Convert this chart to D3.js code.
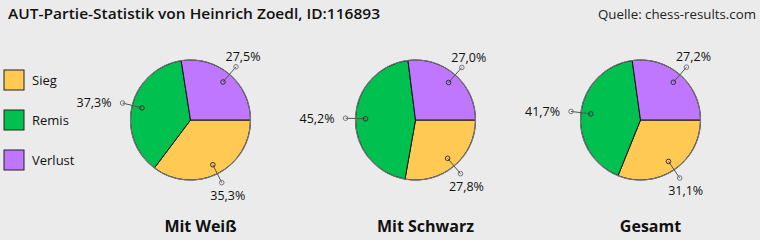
<!DOCTYPE html>
<html>
<head>
<meta charset="utf-8">
<script src="https://cdn.jsdelivr.net/npm/d3@7"></script>
<style>
  html, body { margin: 0; padding: 0; background: #ebebeb; }
  svg { display: block; font-family: "Open Sans", "Noto Sans", sans-serif; }
</style>
</head>
<body>
<svg id="chart" width="760" height="240"></svg>
<script>
// chart data
var categories = ["Sieg", "Remis", "Verlust"];
var groups = ["Mit Weiß", "Mit Schwarz", "Gesamt"];
var sieg = [35.3, 27.8, 31.1];
var remis = [37.3, 45.2, 41.7];
var verlust = [27.5, 27.0, 27.2];
var colors = ["#ffc953", "#00c04f", "#c077ff"];

var svg = d3.select("#chart");
var W = 760, R = 60, cy = 120;

var fmt = d3.formatLocale({decimal: ",", thousands: ".", grouping: [3], currency: ["", "€"]}).format(".1f");

// title + source
svg.append("text")
    .attr("x", 8).attr("y", 19)
    .attr("font-size", 15).attr("font-weight", 600).attr("fill", "#111")
    .attr("textLength", 372).attr("lengthAdjust", "spacingAndGlyphs")
    .text("AUT-Partie-Statistik von Heinrich Zoedl, ID:116893");
svg.append("text")
    .attr("x", 756).attr("y", 19).attr("text-anchor", "end")
    .attr("font-size", 13).attr("fill", "#222")
    .attr("textLength", 158).attr("lengthAdjust", "spacingAndGlyphs")
    .text("Quelle: chess-results.com");

// legend
var leg = svg.append("g").selectAll("g").data(categories).enter().append("g")
    .attr("transform", function (d, i) { return "translate(4," + (70 + i * 40) + ")"; });
leg.append("rect").attr("width", 20).attr("height", 20)
    .attr("fill", function (d, i) { return colors[i]; })
    .attr("stroke", "#222").attr("stroke-width", 1);
leg.append("text").attr("x", 28).attr("y", 10).attr("dy", "0.35em")
    .attr("font-size", 13).attr("fill", "#111")
    .text(function (d) { return d; });

var x = d3.scalePoint().domain(groups).range([190.5, 640.5]);
var pie = d3.pie().sort(null).startAngle(Math.PI / 2).endAngle(Math.PI / 2 + 2 * Math.PI);
var arc = d3.arc().innerRadius(0).outerRadius(R);

groups.forEach(function (g, gi) {
    var vals = [sieg[gi], remis[gi], verlust[gi]];
    var cx = x(g);
    var pg = svg.append("g").attr("transform", "translate(" + cx + "," + cy + ")");
    var arcs = pie(vals);

    pg.selectAll("path").data(arcs).enter().append("path")
        .attr("d", arc)
        .attr("fill", function (d, i) { return colors[i]; })
        .attr("stroke", "#111").attr("stroke-width", 1);
    pg.append("circle").attr("r", R).attr("fill", "none")
        .attr("stroke", "#777").attr("stroke-width", 1.2);

    arcs.forEach(function (d, i) {
        var a = (d.startAngle + d.endAngle) / 2;
        var sx = Math.sin(a), sy = -Math.cos(a);
        var ix = sx * 50, iy = sy * 50, ox = sx * 70, oy = sy * 70;
        pg.append("line").attr("x1", ix).attr("y1", iy).attr("x2", ox).attr("y2", oy)
            .attr("stroke", "#555").attr("stroke-width", 1);
        pg.append("circle").attr("cx", ix).attr("cy", iy).attr("r", 2.3)
            .attr("fill", "none").attr("stroke", "#333");
        pg.append("circle").attr("cx", ox).attr("cy", oy).attr("r", 2.3)
            .attr("fill", "none").attr("stroke", "#777");
        var t = pg.append("text").attr("font-size", 12.5).attr("fill", "#111").text(fmt(vals[i]) + "%");
        if (Math.abs(sx) > Math.abs(sy)) {
            t.attr("x", sx < 0 ? ox - 11 : ox + 11).attr("y", oy).attr("dy", "0.35em")
                .attr("text-anchor", sx < 0 ? "end" : "start");
        } else if (sy > 0) {
            t.attr("x", ox + 6).attr("y", oy + 17).attr("text-anchor", "middle");
        } else {
            t.attr("x", ox + 7).attr("y", oy - 6).attr("text-anchor", "middle");
        }
    });

    svg.append("text").attr("x", cx + 10).attr("y", 232).attr("text-anchor", "middle")
        .attr("font-size", 16).attr("font-weight", "bold").attr("fill", "#111")
        .text(g);
});
</script>
</body>
</html>
